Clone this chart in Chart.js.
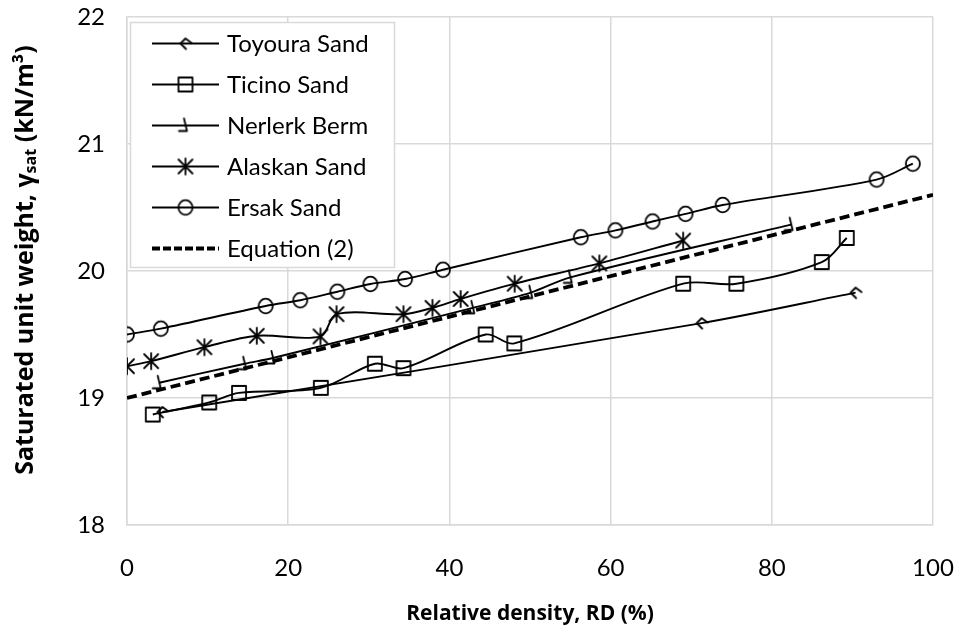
<!DOCTYPE html>
<html>
<head>
<meta charset="utf-8">
<script src="https://cdn.jsdelivr.net/npm/chart.js@4/dist/chart.umd.min.js"></script>
<style>
  html, body { margin: 0; padding: 0; background: #fff; }
  #wrap { width: 955px; height: 627px; }
</style>
</head>
<body>
<div id="wrap"><canvas id="c" width="955" height="627"></canvas></div>
<script>
// Relative density RD (%) and saturated unit weight (kN/m3) per sand
const toyouraRD    = [4.4, 71.3, 90.4];
const toyouraGamma = [18.89, 19.59, 19.83];

const ticinoRD    = [3.2, 10.2, 13.9, 24.05, 30.75, 34.3, 44.5, 48.05, 69.0, 75.6, 86.2, 89.3];
const ticinoGamma = [18.87, 18.965, 19.04, 19.08, 19.27, 19.235, 19.50, 19.43, 19.90, 19.90, 20.07, 20.26];

const nerlerkRD    = [4.0, 14.6, 18.1, 42.9, 50.1, 55.0, 82.4];
const nerlerkGamma = [19.12, 19.27, 19.315, 19.71, 19.83, 19.95, 20.365];

const alaskanRD    = [0, 3.0, 9.6, 16.1, 24.0, 26.0, 34.3, 37.9, 41.4, 48.1, 58.6, 69.0];
const alaskanGamma = [19.25, 19.29, 19.40, 19.49, 19.485, 19.66, 19.66, 19.71, 19.78, 19.90, 20.06, 20.24];

const ersakRD    = [0, 4.2, 17.2, 21.5, 26.1, 30.2, 34.5, 39.2, 56.3, 60.6, 65.2, 69.3, 73.9, 93.0, 97.5];
const ersakGamma = [19.50, 19.546, 19.724, 19.77, 19.837, 19.898, 19.937, 20.01, 20.266, 20.32, 20.39, 20.45, 20.52, 20.72, 20.845];

// Equation (2): straight line across the RD range
const equationRD    = [0, 100];
const equationGamma = [19.0, 20.6];

const xTicks = [0, 20, 40, 60, 80, 100];
const yTicks = [18, 19, 20, 21, 22];

const seriesNames = ['Toyoura Sand', 'Ticino Sand', 'Nerlerk Berm', 'Alaskan Sand', 'Ersak Sand', 'Equation (2)'];

const FONT = 'Lato, "Open Sans", sans-serif';
const TITLE_FONT = '"Open Sans", Lato, sans-serif';

// ---- marker glyphs drawn on small canvases ----
function marker(draw) {
  const s = 26;
  const c = document.createElement('canvas');
  c.width = s; c.height = s;
  const g = c.getContext('2d');
  g.translate(s / 2, s / 2);
  g.strokeStyle = '#000';
  g.lineWidth = 1.8;
  g.lineCap = 'round';
  g.lineJoin = 'round';
  draw(g);
  return c;
}
const mkToyoura = marker(g => {
  g.beginPath();
  g.moveTo(6, -0.5); g.lineTo(0, -5); g.lineTo(-5, 0); g.lineTo(0.5, 5.5);
  g.stroke();
});
const mkTicino = marker(g => {
  g.strokeRect(-7, -7, 14, 14);
});
const mkNerlerk = marker(g => {
  g.beginPath();
  g.moveTo(-1.5, -7); g.lineTo(1.5, 5.5); g.lineTo(-6.5, 5.5);
  g.stroke();
});
const mkAlaskan = marker(g => {
  g.beginPath();
  g.moveTo(0, -8); g.lineTo(0, 8);
  g.moveTo(-7, -7); g.lineTo(7, 7);
  g.moveTo(7, -7); g.lineTo(-7, 7);
  g.stroke();
});
const mkErsak = marker(g => {
  g.beginPath();
  g.ellipse(0, 0, 7, 7.4, 0, 0, Math.PI * 2);
  g.stroke();
});

function pts(xs, ys) { return xs.map((x, i) => ({ x: x, y: ys[i] })); }

function series(label, xs, ys, mk) {
  return {
    label: label,
    data: pts(xs, ys),
    borderColor: '#000',
    borderWidth: 1.9,
    backgroundColor: 'transparent',
    pointStyle: mk,
    pointRadius: 7,
    pointHoverRadius: 7,
    tension: 0.33,
    fill: false
  };
}

const datasets = [
  series(seriesNames[0], toyouraRD, toyouraGamma, mkToyoura),
  series(seriesNames[1], ticinoRD, ticinoGamma, mkTicino),
  series(seriesNames[2], nerlerkRD, nerlerkGamma, mkNerlerk),
  series(seriesNames[3], alaskanRD, alaskanGamma, mkAlaskan),
  series(seriesNames[4], ersakRD, ersakGamma, mkErsak),
  {
    label: seriesNames[5],
    data: pts(equationRD, equationGamma),
    borderColor: '#000',
    borderWidth: 3.8,
    borderDash: [10, 5],
    pointRadius: 0,
    tension: 0,
    fill: false
  }
];
const legendMarkers = [mkToyoura, mkTicino, mkNerlerk, mkAlaskan, mkErsak, null];

// legend box inside the plot, top-left
const boxLegend = {
  id: 'boxLegend',
  afterDatasetsDraw(chart) {
    const ctx = chart.ctx;
    const bx = 130, by = 22, bw = 264, bh = 245;
    ctx.save();
    ctx.fillStyle = '#fff';
    ctx.fillRect(bx, by, bw, bh);
    ctx.strokeStyle = '#d9d9d9';
    ctx.lineWidth = 1.5;
    ctx.strokeRect(bx + 0.5, by + 0.5, bw, bh);
    const x0 = 152, x1 = 219, xm = 185.5, tx = 227;
    ctx.font = '24px ' + FONT;
    ctx.fillStyle = '#000';
    ctx.textBaseline = 'middle';
    seriesNames.forEach((name, i) => {
      const y = 43.5 + i * 41;
      ctx.beginPath();
      ctx.strokeStyle = '#000';
      if (legendMarkers[i]) {
        ctx.lineWidth = 1.9;
        ctx.setLineDash([]);
      } else {
        ctx.lineWidth = 3.8;
        ctx.setLineDash([8, 3]);
      }
      ctx.moveTo(x0, y); ctx.lineTo(x1, y);
      ctx.stroke();
      ctx.setLineDash([]);
      const m = legendMarkers[i];
      if (m) ctx.drawImage(m, xm - m.width / 2, y - m.height / 2);
      ctx.fillText(name, tx, y + 1);
    });
    ctx.restore();
  }
};

// rotated y-axis title with subscript
const yTitle = {
  id: 'yTitle',
  afterDraw(chart) {
    const ctx = chart.ctx;
    const parts = [
      { t: 'Saturated unit weight, \u03B3', f: 'bold 25px ' + TITLE_FONT, dy: 0 },
      { t: 'sat', f: 'bold 16px ' + TITLE_FONT, dy: 5 },
      { t: ' (kN/m\u00B3)', f: 'bold 25px ' + TITLE_FONT, dy: 0 }
    ];
    ctx.save();
    ctx.translate(26, 260);
    ctx.rotate(-Math.PI / 2);
    let total = 0;
    parts.forEach(p => { ctx.font = p.f; p.w = ctx.measureText(p.t).width; total += p.w; });
    let x = -total / 2;
    ctx.fillStyle = '#000';
    ctx.textBaseline = 'middle';
    parts.forEach(p => { ctx.font = p.f; ctx.fillText(p.t, x, p.dy); x += p.w; });
    ctx.restore();
  }
};

new Chart(document.getElementById('c'), {
  type: 'line',
  data: { datasets: datasets },
  options: {
    responsive: false,
    animation: false,
    devicePixelRatio: 1,
    layout: { padding: { top: 17, right: 22, left: 0, bottom: 0 } },
    plugins: { legend: { display: false }, tooltip: { enabled: false } },
    scales: {
      x: {
        type: 'linear',
        min: 0, max: 100,
        afterBuildTicks(scale) { scale.ticks = xTicks.map(v => ({ value: v })); },
        afterFit(scale) {
          scale.height = 102;
          scale.paddingLeft = 0;
          scale.paddingRight = 10;
        },
        grid: { color: '#d9d9d9', lineWidth: 1.5, drawTicks: false },
        border: { color: '#d9d9d9', width: 1.5 },
        ticks: { color: '#000', font: { family: FONT, size: 24 }, padding: 29, maxRotation: 0 },
        title: { display: true, text: 'Relative density, RD (%)', color: '#000',
                 font: { family: TITLE_FONT, size: 21, weight: 'bold' }, padding: { top: 2, bottom: 0 } }
      },
      y: {
        type: 'linear',
        min: 18, max: 22,
        afterBuildTicks(scale) { scale.ticks = yTicks.map(v => ({ value: v })); },
        afterFit(scale) {
          scale.width = 127;
          scale.paddingTop = 5;
          scale.paddingBottom = 5;
        },
        grid: { color: '#d9d9d9', lineWidth: 1.5, drawTicks: false },
        border: { color: '#d9d9d9', width: 1.5 },
        ticks: { color: '#000', font: { family: FONT, size: 24 }, padding: 22 }
      }
    }
  },
  plugins: [boxLegend, yTitle]
});
</script>
</body>
</html>
